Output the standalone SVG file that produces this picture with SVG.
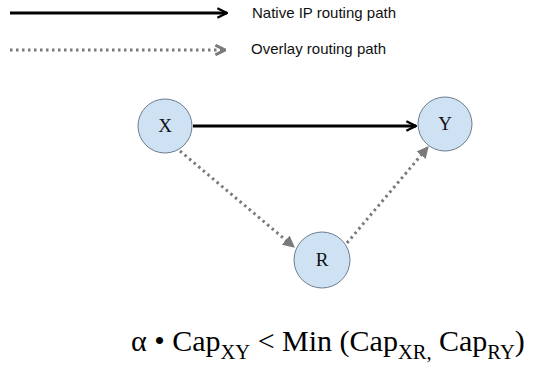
<svg xmlns="http://www.w3.org/2000/svg" width="538" height="368" viewBox="0 0 538 368">
<style>
.node{fill:#cfe2f3;stroke:#6b7c8f;stroke-width:1}
.nl{font-family:"Liberation Serif",serif;font-size:19px;fill:#111;text-anchor:middle}
.solid{stroke:#000;stroke-width:3;fill:none}
.dot{stroke:#7a7a7a;stroke-width:3;fill:none;stroke-dasharray:2.5 3.5}
.leg{font-family:"Liberation Sans",sans-serif;font-size:15px;fill:#111}
.f{font-family:"Liberation Serif",serif;font-size:30px;fill:#000}
.sub{font-size:20.5px}
</style>
<defs>
<marker id="open" viewBox="0 0 10 10" refX="9" refY="5" markerWidth="4" markerHeight="4" orient="auto" markerUnits="strokeWidth">
<path d="M1,1 L9,5 L1,9" fill="none" stroke="#000" stroke-width="2"/>
</marker>
<marker id="tri" viewBox="0 0 10 10" refX="9" refY="5" markerWidth="4" markerHeight="4" orient="auto" markerUnits="strokeWidth">
<path d="M0,0 L10,5 L0,10 Z" fill="#7a7a7a"/>
</marker>
<marker id="chev" viewBox="0 0 10 10" refX="9" refY="5" markerWidth="4" markerHeight="4" orient="auto" markerUnits="strokeWidth">
<path d="M1,1 L9,5 L1,9" fill="none" stroke="#7a7a7a" stroke-width="2.5"/>
</marker>
</defs>
<g id="legend">
<line class="solid" x1="10" y1="13" x2="227" y2="13" marker-end="url(#open)"/>
<text class="leg" x="252" y="18">Native IP routing path</text>
<line class="dot" x1="10" y1="50" x2="225" y2="50" marker-end="url(#chev)"/>
<text class="leg" x="251" y="54">Overlay routing path</text>
</g>
<g id="connectors">
<line class="solid" x1="193" y1="126" x2="416" y2="126" marker-end="url(#open)"/>
<line class="dot" x1="180" y1="151" x2="294" y2="247" marker-end="url(#tri)"/>
<line class="dot" x1="347" y1="243" x2="428" y2="147" marker-end="url(#tri)"/>
</g>
<g id="node-X"><circle class="node" cx="165" cy="126" r="27"/><text class="nl" x="165" y="132">X</text></g>
<g id="node-Y"><circle class="node" cx="445" cy="124" r="27"/><text class="nl" x="445" y="130">Y</text></g>
<g id="node-R"><circle class="node" cx="322" cy="260" r="28"/><text class="nl" x="322" y="266">R</text></g>
<g id="formula">
<text class="f" x="131" y="351">α • Cap<tspan class="sub" dy="8">XY</tspan><tspan dy="-8"> &lt; Min (Cap</tspan><tspan class="sub" dy="8">XR,</tspan><tspan dy="-8"> Cap</tspan><tspan class="sub" dy="8">RY</tspan><tspan dy="-8">)</tspan></text>
</g>
</svg>
